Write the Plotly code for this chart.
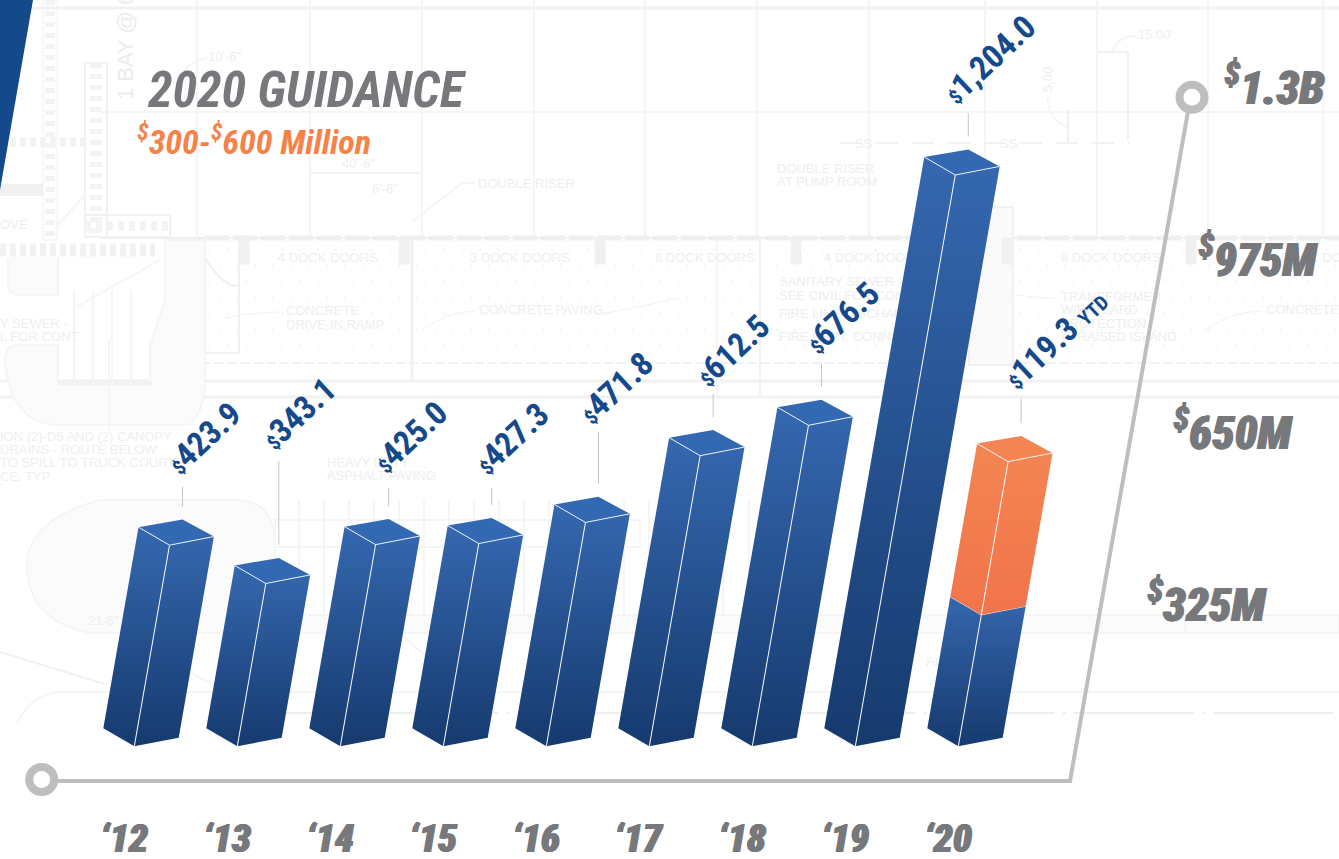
import plotly.graph_objects as go

# ---------- data ----------
years = ["‘12", "‘13", "‘14", "‘15", "‘16", "‘17", "‘18", "‘19", "‘20"]
revenue = [423.9, 343.1, 425.0, 427.3, 471.8, 612.5, 676.5, 1204.0, 600.0]
value_labels = ["423.9", "343.1", "425.0", "427.3", "471.8", "612.5", "676.5", "1,204.0", "119.3"]
guidance_low = 277.0
guidance_high = 600.0
axis_ticks = [325, 650, 975, 1300]
axis_tick_labels = ["325M", "650M", "975M", "1.3B"]

# ---------- layout of the pseudo-3D projection ----------
W, H = 1339, 859
PX_PER_VALUE = 0.4745
BASE_PX = 728.3
SHEAR = 0.175
FIRST_X, STEP_X = 103.3, 103.0
FRONT = (31.0, 18.0)
RIGHT = (75.4, 9.4)
BACK = (44.0, -7.6)
leader_lengths = [20, 84, 18, 17, 52, 23, 23, 23, 24]
label_shift = [(20, -51), (19, -50), (20, -54), (19, -52), (17, -47), (18, -47), (20, -49), (20, -57), (33, -63)]

GREY = "#77787b"
AXIS = "#bcbec0"
NAVY = "#14498c"
ORANGE = "#f58349"
FONT = "Roboto Condensed"
PLAN = "#f1f1f2"
PLAN_SOFT = "#f5f5f6"
PLAN_TEXT = "#eeeeef"


def y_val(px):
    return (BASE_PX - px) / PX_PER_VALUE


def pt(i, v, off=(0, 0)):
    x = FIRST_X + STEP_X * i + v * PX_PER_VALUE * SHEAR + off[0]
    return x, v - off[1] / PX_PER_VALUE


fig = go.Figure()
shapes = []


# ---------- faint blueprint backdrop ----------
def seg(x0, y0, x1, y1, color=PLAN, width=2, dash=None):
    line = dict(color=color, width=width)
    if dash:
        line["dash"] = dash
    shapes.append(dict(type="line", x0=x0, x1=x1, y0=y_val(y0), y1=y_val(y1), xref="x", yref="y",
                       line=line, layer="below"))


def rect(x0, y0, x1, y1, color=PLAN, width=2, fill=None):
    shapes.append(dict(type="rect", x0=x0, x1=x1, y0=y_val(y0), y1=y_val(y1), xref="x", yref="y",
                       line=dict(color=color, width=width), fillcolor=fill or "rgba(0,0,0,0)", layer="below"))


def curve(points, color=PLAN_SOFT, width=2, fill=None):
    """points: 'M'/'L'/'Q' commands with px coordinates"""
    out = []
    for cmd in points:
        c, nums = cmd[0], cmd[1:]
        out.append(c + " " + " ".join(f"{nums[k]} {y_val(nums[k + 1])}" for k in range(0, len(nums), 2)))
    shapes.append(dict(type="path", path=" ".join(out), xref="x", yref="y",
                       line=dict(color=color, width=width), fillcolor=fill or "rgba(0,0,0,0)", layer="below"))


seg(0, 8, W, 8, width=3)
seg(100, 112, W, 112, color=PLAN_SOFT)
for vx in [197, 310, 422, 534, 645, 757, 869, 985, 1097, 1208, 1323]:
    seg(vx, 0, vx, 237, color=PLAN_SOFT, width=2)
seg(100, 238, W, 238, color="#eeeeef", width=2)
seg(205, 238, W, 238, color="#efeff0", width=5, dash="24px,4px")
seg(201, 363, W, 363, color=PLAN, width=2, dash="10px,3px")
seg(0, 381, W, 381, width=3)
seg(0, 397, W, 397, width=3)
seg(201, 238, 201, 381)
seg(239, 238, 239, 353)
seg(201, 353, 239, 353)
seg(412, 238, 412, 381, width=3)
seg(717, 238, 717, 397, color=PLAN_SOFT)
seg(760, 238, 760, 397)
rect(969, 207, 1013, 365, color=PLAN, width=2, fill="#fafafa")
for dock_x in [244, 404, 600, 796, 1007, 1191]:
    rect(dock_x - 5, 238, dock_x + 5, 264, color=PLAN, width=1, fill="#f0f0f1")

# left wall stack
rect(43, 0, 57, 240, color=PLAN, width=1)
seg(50, 0, 50, 240, color="#f3f3f4", width=10, dash="5px,6px")
rect(85, 63, 107, 237, color=PLAN, width=2)
seg(96, 63, 96, 237, color="#f3f3f4", width=12, dash="5px,6px")
rect(85, 215, 170, 237, color=PLAN, width=2)
seg(85, 226, 170, 226, color="#f3f3f4", width=10, dash="6px,5px")
seg(0, 250, 155, 250, color="#f1f1f2", width=13, dash="6px,4px")
seg(0, 142, 85, 142, color="#f3f3f4", width=10, dash="6px,4px")
seg(0, 190, 43, 190, color="#f0f0f1", width=12)
seg(55, 228, 85, 195, color=PLAN_SOFT)
seg(71, 310, 160, 260, color=PLAN_SOFT)
curve([("M", 8, 258), ("L", 8, 285), ("Q", 8, 295, 20, 295), ("L", 58, 295), ("L", 58, 258)], color=PLAN_SOFT, width=2, fill="#fbfbfb")
curve([("M", 58, 345), ("L", 20, 345), ("Q", 5, 345, 5, 360), ("Q", 10, 425, 60, 425), ("L", 190, 425),
       ("Q", 205, 410, 205, 380), ("L", 205, 240), ("L", 165, 240), ("L", 165, 300), ("L", 150, 345), ("L", 150, 384), ("L", 58, 384), ("Z",)],
      color=PLAN_SOFT, width=2, fill="#fbfbfb")
seg(59, 384, 152, 384, color=PLAN, width=3)
for vx in [74, 93, 112, 131]:
    seg(vx, 290, vx, 384, color=PLAN_SOFT)
seg(109, 340, 109, 430, color=PLAN_SOFT)

# dimensions and section marks
seg(310, 173, 420, 173)
seg(840, 143, 1130, 143, color=PLAN, width=2, dash="22px,14px")
seg(1097, 52, 1128, 52)
seg(1128, 52, 1128, 140)
seg(1068, 110, 1068, 143)
curve([("M", 1068, 127), ("Q", 1050, 122, 1047, 98)], color=PLAN_SOFT)
curve([("M", 1112, 52), ("Q", 1118, 36, 1136, 36)], color=PLAN_SOFT)
curve([("M", 180, 78), ("Q", 188, 60, 208, 58)], color=PLAN_SOFT)
seg(412, 222, 462, 183, color=PLAN_SOFT)
seg(462, 183, 475, 183, color=PLAN_SOFT)
curve([("M", 205, 258), ("Q", 225, 290, 240, 285)], color=PLAN, width=2)
curve([("M", 225, 318), ("Q", 255, 312, 278, 312)], color=PLAN, width=1)
curve([("M", 422, 330), ("Q", 445, 312, 475, 311)], color=PLAN, width=1)
curve([("M", 1205, 330), ("Q", 1230, 312, 1262, 311)], color=PLAN, width=1)
curve([("M", 595, 315), ("Q", 650, 305, 678, 298)], color=PLAN, width=1)
curve([("M", 1015, 295), ("Q", 1040, 298, 1058, 298)], color=PLAN, width=1)

# paved bands below the building
curve([("M", 100, 500), ("L", 235, 500), ("Q", 275, 500, 275, 545), ("L", 275, 615), ("L", W, 615), ("L", W, 633),
       ("L", 90, 633), ("Q", 27, 620, 27, 565), ("Q", 27, 520, 100, 500), ("Z",)], color=PLAN_SOFT, width=2, fill="#fbfbfb")
rect(275, 520, 640, 547, color=PLAN_SOFT, width=2)
for k in range(15):
    seg(299 + 25 * k, 500, 299 + 25 * k, 615, color=PLAN_SOFT, width=2)
seg(723, 500, 723, 615, color=PLAN_SOFT)
seg(749, 500, 749, 615, color=PLAN_SOFT)
seg(1185, 615, 1185, 633, color=PLAN_SOFT)
curve([("M", 0, 652), ("L", 85, 678), ("L", 105, 684)], color=PLAN, width=2)
curve([("M", 17, 723), ("Q", 30, 695, 60, 692), ("L", W, 692)], color=PLAN_SOFT, width=2)
seg(240, 713, W, 713, color="#eeeeef", width=2, dash="120px,8px,3px,8px")
seg(185, 670, 270, 713, color=PLAN_SOFT)
seg(400, 633, 430, 660, color=PLAN_SOFT)

# stipple of the concrete slab (regular lattice)
dots_x, dots_y = [], []
for row in range(7):
    for col in range(66):
        dots_x.append(210 + col * 18 + (row % 2) * 9)
        dots_y.append(y_val(250 + row * 16))
fig.add_trace(go.Scatter(x=dots_x, y=dots_y, mode="markers", hoverinfo="skip",
                         marker=dict(size=2, color="#f0f0f1")))

plan_notes = [
    ("DOUBLE RISER", 478, 185), ("DOUBLE RISER", 777, 170), ("AT PUMP ROOM", 777, 183),
    ("4 DOCK DOORS", 278, 259), ("3 DOCK DOORS", 470, 259), ("8 DOCK DOORS", 655, 259),
    ("4 DOCK DOORS", 824, 259), ("8 DOCK DOORS", 1061, 259), ("6 DOCK DOORS", 1270, 259),
    ("CONCRETE", 286, 312), ("DRIVE-IN RAMP", 286, 326), ("CONCRETE PAVING", 479, 311), ("CONCRETE PAVING", 1266, 311),
    ("SANITARY SEWER -", 779, 283), ("SEE CIVIL FOR CONT", 779, 297), ("FIRE LINE DISCHARGE", 779, 315),
    ("FIRE DEPT. CONNECTION", 779, 338), ("TRANSFORMER", 1061, 298), ("W/BOLLARD", 1061, 311),
    ("PROTECTION", 1061, 325), ("IN RAISED ISLAND", 1061, 338), ("Y SEWER -", 0, 325), ("L FOR CONT.", 0, 338),
    ("ION (2)-D5 AND (2) CANOPY", 0, 438), ("DRAINS - ROUTE BELOW", 0, 451), ("TO SPILL TO TRUCK COURT", 0, 464),
    ("CE, TYP.", 0, 478), ("HEAVY DUTY", 327, 464), ("ASPHALT PAVING", 327, 477), ("ACCESS ROAD", 926, 663),
    ("OVE", 0, 226), ("SS", 855, 145), ("SS", 1000, 145), ("15.00'", 1138, 36), ("10'-6\"", 208, 58),
    ("40'-6\"", 342, 165), ("6'-6\"", 372, 190), ("21-6\"", 88, 622),
]
fig.add_trace(go.Scatter(x=[n[1] for n in plan_notes], y=[y_val(n[2]) for n in plan_notes], text=[n[0] for n in plan_notes],
                         mode="text", textposition="middle right", hoverinfo="skip",
                         textfont=dict(family="Liberation Sans", size=13, color=PLAN_TEXT)))


def poly(points, **kw):
    xs = [p[0] for p in points] + [points[0][0]]
    ys = [p[1] for p in points] + [points[0][1]]
    fig.add_trace(go.Scatter(x=xs, y=ys, mode="lines", fill="toself", line=dict(width=0), hoverinfo="skip", **kw))


def line(points, color, width, **kw):
    fig.add_trace(go.Scatter(x=[p[0] for p in points], y=[p[1] for p in points], mode="lines",
                             line=dict(color=color, width=width), hoverinfo="skip", **kw))


def prism(i, lo, hi, bottom, top, cap):
    a = pt(i, lo); b = pt(i, lo, FRONT); c = pt(i, lo, RIGHT)
    d = pt(i, hi, RIGHT); e = pt(i, hi, FRONT); f = pt(i, hi); g = pt(i, hi, BACK)
    poly([a, b, c, d, e, f],
         fillgradient=dict(type="vertical", colorscale=[[0, bottom], [1, top]]))
    poly([f, g, d, e], fillcolor=cap)
    line([f, e, d], "rgba(255,255,255,0.85)", 1)
    line([e, b], "white", 1)


# ---------- axis ----------
line([(41.7, y_val(781)), (1070, y_val(781)), (1190, y_val(100))], AXIS, 4)
fig.add_trace(go.Scatter(x=[41.7, 1192], y=[y_val(779.5), y_val(97.3)], mode="markers", hoverinfo="skip",
                         marker=dict(symbol="circle", size=25, color="white", line=dict(color=AXIS, width=8))))

# ---------- bars ----------
for i, v in enumerate(revenue):
    if i < 8:
        prism(i, 0, v, "#163a6e", "#3568b0", "#3369b3")
    else:
        prism(i, 0, guidance_low, "#163a6e", "#3566ad", "#3369b3")
        prism(i, guidance_low, guidance_high, "#f1744a", "#f48553", "#f48553")

annotations = [dict(text="1 BAY @ 60'", x=125, y=y_val(38), xref="x", yref="y", showarrow=False, textangle=-90,
                    font=dict(family="Liberation Sans", size=22, color="#ececed")),
               dict(text="5.00", x=1047, y=y_val(80), xref="x", yref="y", showarrow=False, textangle=-90,
                    font=dict(family="Liberation Sans", size=13, color=PLAN_TEXT))]


def note(text, x, y, size, color=GREY, anchor="center", angle=0, weight="bold", style="italic", shadow=None):
    font = dict(family=FONT, size=size, color=color, weight=weight, style=style)
    if shadow:
        font["shadow"] = shadow
    annotations.append(dict(text=text, x=x, y=y, xref="x", yref="y", showarrow=False, font=font,
                            xanchor=anchor, yanchor="middle", textangle=angle))


HEAVY = "0.9px 0 0 #77787b, -0.6px 0 0 #77787b"

# ---------- leaders and value labels ----------
for i, v in enumerate(revenue):
    bx, by = pt(i, v, BACK)
    top_val = by + (13 + leader_lengths[i]) / PX_PER_VALUE
    line([(bx, by + 13 / PX_PER_VALUE), (bx, top_val)], "#c4c5c7", 1)
    sx, sy = label_shift[i]
    suffix = " <span style=\"font-size:20px\">YTD</span>" if i == 8 else ""
    note(f"<span style=\"font-size:20px\">$</span>{value_labels[i]}{suffix}", bx + sx + 1, top_val - (sy + 3) / PX_PER_VALUE,
         33, color=NAVY, angle=-43, style="normal")
    note(years[i], FIRST_X + STEP_X * i + 21, y_val(839), 39, weight=900, shadow=HEAVY)

# ---------- value axis labels (own printed scale) ----------
for t, lab in zip(axis_ticks, axis_tick_labels):
    px = 778 - 0.530 * t
    note(f"<sup>$</sup>{lab}", 1145 + (t - 325) * 0.079, y_val(px - 4), 46, anchor="left", weight=900, shadow=HEAVY)

# ---------- heading ----------
note("2020 GUIDANCE", 145, y_val(90), 50, anchor="left")
note("<sup>$</sup>300-<sup>$</sup>600 Million", 135, y_val(140), 34, color=ORANGE, anchor="left")

# ---------- corner accent ----------
shapes.append(dict(type="path", path=f"M 0 {y_val(0)} L 33 {y_val(0)} L 0 {y_val(190)} Z", fillcolor=NAVY,
                   line_width=0, xref="x", yref="y"))

fig.update_layout(
    width=W, height=H, margin=dict(l=0, r=0, t=0, b=0), showlegend=False, shapes=shapes,
    paper_bgcolor="white", plot_bgcolor="white", annotations=annotations,
    xaxis=dict(range=[0, W], visible=False, fixedrange=True),
    yaxis=dict(range=[y_val(H), y_val(0)], visible=False, fixedrange=True),
)
fig.write_html("out.html", config={"displayModeBar": False},
               post_script="document.body.style.margin='0';document.body.style.overflow='hidden';")
